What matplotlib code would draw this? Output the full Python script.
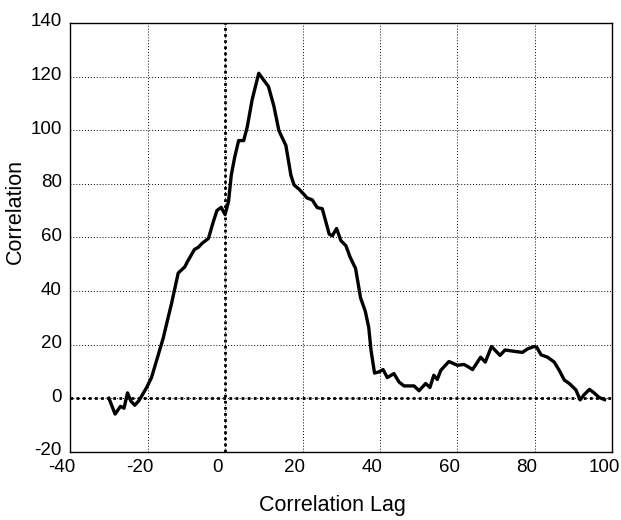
import matplotlib
matplotlib.use("Agg")
import matplotlib.pyplot as plt
from matplotlib.transforms import ScaledTranslation

lag = [-30, -28.4, -27, -26.1, -25.2, -24.3, -23.3, -22.2, -20.3, -19, -17.7, -16,
       -13.8, -12.1, -10.4, -9.7, -7.9, -6.9, -6, -4.3, -3, -2.1, -1, 0, 0.9, 1.6,
       2.5, 3.5, 4.8, 5.7, 7, 8.7, 9.6, 11.2, 12.6, 13.9, 15.7, 17, 17.8, 19.3,
       21.2, 22.5, 23.8, 25.1, 26.9, 27.7, 28.8, 29.9, 31.2, 32.3, 33.7, 35, 36.2,
       37.1, 37.7, 38.6, 39.7, 40.8, 41.9, 43.6, 44.9, 46.2, 48.8, 50.1, 51.8,
       52.9, 53.9, 54.8, 55.7, 57.8, 60, 61.7, 62.6, 63.9, 66, 67.2, 68.8, 71,
       72.3, 74.7, 76.8, 78.1, 79.8, 80.5, 81.6, 83.3, 85, 86.3, 87.6, 88.9, 90.6,
       91.7, 92.7, 94.1, 95.2, 96.6, 98]
corr = [0, -5.9, -3, -3.7, 2, -1.1, -2.6, -0.8, 3.9, 7.7, 14, 22.3,
        35.5, 46.7, 49, 51, 55.5, 56.3, 57.7, 59.6, 66, 70, 71.2, 68.5, 73.4, 83.2,
        90, 96.1, 96.1, 101, 111.4, 121.2, 119.4, 116.3, 109, 99.8, 94.3, 83.2, 79.6, 77.7,
        74.7, 74, 71.1, 70.7, 61.2, 60.6, 63.3, 58.8, 56.9, 52.6, 48.4, 37.4, 32.5,
        26.4, 17.8, 9.4, 9.8, 10.7, 7.7, 9.2, 6.1, 4.6, 4.6, 2.8, 5.5,
        4, 8.6, 7, 10.4, 13.7, 12.3, 12.6, 11.9, 10.7, 15.3, 13.5, 19.3, 16,
        18, 17.5, 17.1, 18.4, 19.3, 19, 16.2, 15.3, 13.5, 10.4, 6.8, 5.5, 3.1,
        -0.6, 1.3, 3.3, 2.1, 0.3, -0.5]

xticks = [-40, -20, 0, 20, 40, 60, 80, 100]
yticks = [-20, 0, 20, 40, 60, 80, 100, 120, 140]
zero_lag = 0

plt.rcParams['font.family'] = ['Liberation Sans', 'DejaVu Sans']
plt.rcParams['axes.unicode_minus'] = False

fig = plt.figure(figsize=(6.21, 5.2), dpi=100)
ax = fig.add_axes([0.113, 0.131, 0.873, 0.825])

n = min(len(lag), len(corr))
ax.plot(lag[:n], corr[:n], color='black', lw=2.4, zorder=3)
ax.axhline(0, color='black', lw=2.0, ls=(0, (1, 1.2)), zorder=2)
ax.axvline(zero_lag, color='black', lw=2.0, ls=(0, (1, 1.2)), zorder=2)

ax.set_xlim(-40, 100)
ax.set_ylim(-20, 140)
ax.set_xticks(xticks)
ax.set_yticks(yticks)
ax.grid(True, color='black', lw=0.7, ls=(0, (1, 2)))
ax.tick_params(direction='in', length=0, labelsize=13.5)
ax.tick_params(axis='x', pad=5)
ax.tick_params(axis='y', pad=6)
for lbl in ax.get_xticklabels():
    lbl.set_transform(lbl.get_transform() + ScaledTranslation(-0.08, 0, fig.dpi_scale_trans))
for lbl in ax.get_yticklabels():
    lbl.set_transform(lbl.get_transform() + ScaledTranslation(0, 0.03, fig.dpi_scale_trans))
for s in ax.spines.values():
    s.set_linewidth(1.0)
ax.set_xlabel('Correlation Lag', fontsize=15.5)
ax.set_ylabel('Correlation', fontsize=15.5)
ax.xaxis.set_label_coords(0.483, -0.1)
ax.yaxis.set_label_coords(-0.082, 0.56)
ax.xaxis.label.set_va('top')

fig.savefig('out.png', dpi=100)
